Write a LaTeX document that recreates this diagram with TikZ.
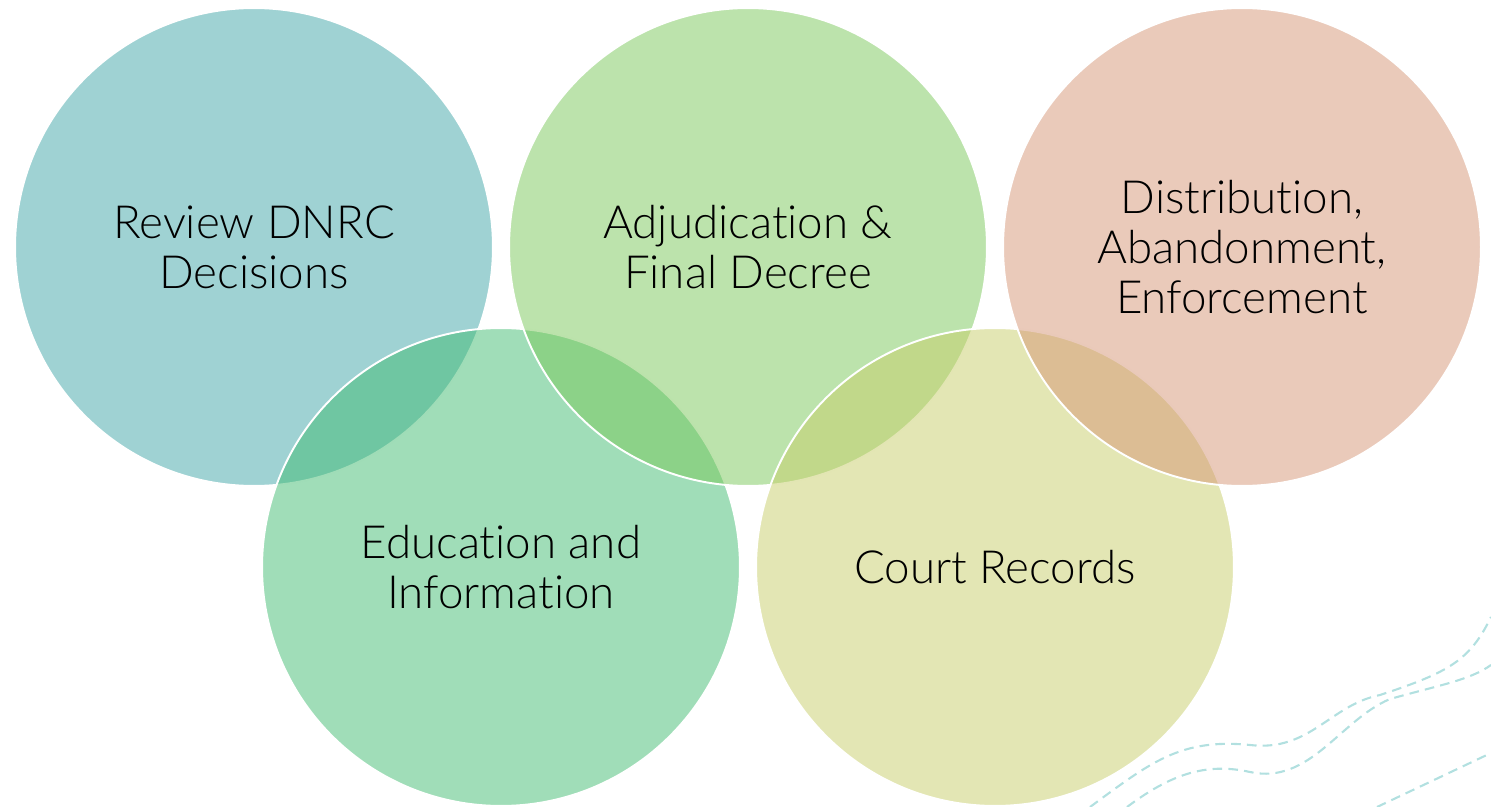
\documentclass[tikz,border=0pt]{standalone}
\usepackage{fontspec}
\setmainfont{Lato}[UprightFont=* Light, RawFeature={-liga;-dlig}]
\definecolor{tealbase}{RGB}{63,165,167}
\definecolor{leafbase}{RGB}{121,199,89}
\definecolor{peachbase}{RGB}{213,149,117}
\definecolor{mintbase}{RGB}{65,187,113}
\definecolor{olivebase}{RGB}{199,205,105}
\definecolor{wavecol}{RGB}{178,224,224}
\begin{document}
\begin{tikzpicture}[
    x=0.02cm, y=-0.02cm,
    ring/.style={circle, draw=white, line width=1.1pt, fill opacity=0.5, draw opacity=1, text opacity=1, minimum size=9.56cm, inner sep=0pt, align=center, font=\fontsize{26}{28.3}\selectfont},
    wave/.style={draw=wavecol, line width=1.2pt, dash pattern=on 5.5pt off 3.5pt}
]
    \useasboundingbox (0,0) rectangle (1491,807);
    \node[ring, fill=tealbase] (review) at (254,247) {Review DNRC\\Decisions};
    \node[ring, fill=mintbase] (education) at (501,567) {Education and\\Information};
    \node[ring, fill=leafbase] (adjudication) at (748,247) {Adjudication \&\\Final Decree};
    \node[ring, fill=olivebase] (court) at (995,567) {Court Records};
    \node[ring, fill=peachbase] (distribution) at (1242,247) {Distribution,\\Abandonment,\\Enforcement};

    % dashed waves in the lower right corner
    \draw[wave] (1090,807) .. controls (1150,763) and (1180,738) .. (1250,745)
        .. controls (1310,752) and (1330,705) .. (1380,695)
        .. controls (1450,672) and (1470,660) .. (1491,617);
    \draw[wave] (1127,807) .. controls (1170,775) and (1205,762) .. (1250,772)
        .. controls (1310,785) and (1340,720) .. (1390,699)
        .. controls (1440,685) and (1470,680) .. (1491,665);
    \draw[wave] (1377,807) -- (1491,753);
\end{tikzpicture}
\end{document}
